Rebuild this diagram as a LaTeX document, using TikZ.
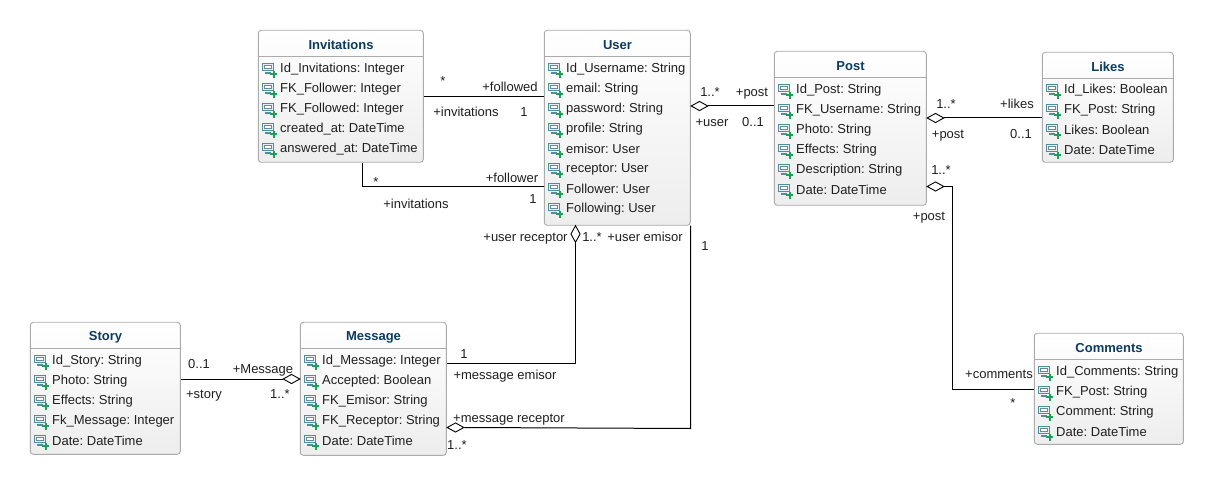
\documentclass[tikz,border=0pt]{standalone}
\usepackage{fontspec}
\setmainfont{Liberation Sans}
\frenchspacing
\usetikzlibrary{calc,shapes.geometric}
\definecolor{titleblue}{HTML}{0B3B5E}
\definecolor{boxline}{HTML}{ABABAB}
\definecolor{iconteal}{HTML}{4E8F9B}
\definecolor{icongray}{HTML}{6F8794}
\definecolor{iconfill}{HTML}{E4F0F4}
\definecolor{icongreen}{HTML}{1E9E5A}
\tikzset{
  x=1pt,y=-1pt,
  classbox/.style={draw=boxline,line width=.9pt,rounded corners=3pt,top color=white,bottom color=black!7,shading angle=0,inner sep=0pt},
  classtitle/.style={font=\fontsize{13}{15}\selectfont\bfseries,text=titleblue,inner sep=0pt},
  attr/.style={font=\fontsize{13}{15}\selectfont,text=black!88,anchor=west,inner sep=0pt,yshift=-1.2pt},
  lbl/.style={font=\fontsize{13}{15}\selectfont,text=black!88,inner sep=0pt,anchor=base,yshift=-.4pt},
  assoc/.style={draw=black,line width=1pt},
  aggmark/.style={draw=black,line width=.9pt,fill=white,diamond,aspect=1.8,minimum width=17pt,minimum height=9.5pt,inner sep=0pt},
  aggv/.style={draw=black,line width=.9pt,fill=white,diamond,aspect=.56,minimum width=9.5pt,minimum height=17pt,inner sep=0pt},
  pics/attricon/.style={code={
    \draw[iconteal,line width=1.1pt,fill=iconfill] (-6.7,-4.7) rectangle (4.3,2.6);
    \draw[icongray,line width=.9pt,fill=white] (-4.6,-2.6) rectangle (2.2,.6);
    \draw[iconteal,line width=1.1pt] (-3.8,5) -- (1.5,5);
    \fill[icongreen] (1.4,5) rectangle (8.4,7.4);
    \fill[icongreen] (3.7,2.7) rectangle (6.1,9.7);
  }}
}
% name, x1, y1, x2, y2, row offset, title, attributes
\newcommand{\umlclass}[8]{%
  \node[classbox,minimum width=#4-#2,minimum height=#5-#3] (#1) at ({(#2+#4)/2+.3},{(#3+#5)/2+.3}) {};
  \draw[boxline,line width=.7pt] (#2+.3,#3+26.5) -- (#4+.3,#3+26.5);
  \node[classtitle] (#1title) at ({(#2+#4)/2+.5},#3+15) {#7};
  \foreach \t [count=\i] in {#8} {
    \pgfmathsetmacro{\yy}{#3+#6+20*\i}
    \pic at (#2+11,\yy) {attricon};
    \node[attr] (#1a\i) at (#2+22,\yy) {\t};
  }
}
\begin{document}
\begin{tikzpicture}
\useasboundingbox (0,0) rectangle (1213,494);
\fill[white] (0,0) rectangle (1213,494);
\umlclass{inv}{258}{30}{423}{162}{18}{Invitations}{Id\_Invitations: Integer,FK\_Follower: Integer,FK\_Followed: Integer,created\_at: DateTime,answered\_at: DateTime}
\umlclass{user}{544}{30}{690}{225}{18}{User}{Id\_Username: String,email: String,password: String,profile: String,emisor: User,receptor: User,Follower: User,Following: User}
\umlclass{post}{774}{51}{926}{205}{18}{Post}{Id\_Post: String,FK\_Username: String,Photo: String,Effects: String,Description: String,Date: DateTime}
\umlclass{likes}{1042}{52}{1173}{162}{17}{Likes}{Id\_Likes: Boolean,FK\_Post: String,Likes: Boolean,Date: DateTime}
\umlclass{story}{30}{322}{180}{454}{18}{Story}{Id\_Story: String,Photo: String,Effects: String,Fk\_Message: Integer,Date: DateTime}
\umlclass{msg}{300}{322}{446}{455}{18}{Message}{Id\_Message: Integer,Accepted: Boolean,FK\_Emisor: String,FK\_Receptor: String,Date: DateTime}
\umlclass{com}{1034}{333}{1183}{444}{18}{Comments}{Id\_Comments: String,FK\_Post: String,Comment: String,Date: DateTime}
% Invitations - User
\draw[assoc] (inv.east |- 0,97) -- (user.west |- 0,97);
\draw[assoc] (inv.south -| 362,0) -- (362,187) -- (user.west |- 0,187);
% User - Post
\node[aggmark] (d1) at (699.5,106) {};
\draw[assoc] (d1.east) -- (post.west |- d1.east);
% Post - Likes
\node[aggmark] (d2) at (935.5,118) {};
\draw[assoc] (d2.east) -- (likes.west |- d2.east);
% Post - Comments
\node[aggmark] (d3) at (935.5,186.5) {};
\draw[assoc] (d3.east) -- (952,186.5) -- (952,389) -- (com.west |- 0,389);
% Story - Message
\node[aggmark] (d4) at (291.5,379) {};
\draw[assoc] (story.east |- d4.west) -- (d4.west);
% User - Message (emisor)
\node[aggv] (d5) at (575.5,234) {};
\draw[assoc] (d5.south) -- (575.5,363.5) -- (msg.east |- 0,363.5);
% User - Message (receptor)
\node[aggmark] (d6) at (455.5,427.5) {};
\draw[assoc] (user.south -| 690.5,0) -- (690.5,428.5) -- (d6.east);
% labels
\node[lbl] (l1) at (443,85) {*};
\node[lbl] (l2) at (510,91) {+followed};
\node[lbl] (l3) at (466,116) {+invitations};
\node[lbl] (l4) at (524,116) {1};
\node[lbl] (l5) at (376,186) {*};
\node[lbl] (l6) at (512,182) {+follower};
\node[lbl] (l7) at (416,208) {+invitations};
\node[lbl] (l8) at (533,203) {1};
\node[lbl] (l9) at (710,96) {1..*};
\node[lbl] (l10) at (752,96) {+post};
\node[lbl] (l11) at (712,126) {+user};
\node[lbl] (l12) at (753,126) {0..1};
\node[lbl] (l13) at (946,108) {1..*};
\node[lbl] (l14) at (1017,108) {+likes};
\node[lbl] (l15) at (948,138) {+post};
\node[lbl] (l16) at (1021,138) {0..1};
\node[lbl] (l17) at (941,174) {1..*};
\node[lbl] (l18) at (929,220) {+post};
\node[lbl] (l19) at (999,378) {+comments};
\node[lbl] (l20) at (1013,407) {*};
\node[lbl] (l21) at (525.5,241) {+user receptor};
\node[lbl] (l22) at (592,241) {1..*};
\node[lbl] (l23) at (645,241) {+user emisor};
\node[lbl] (l24) at (705,250) {1};
\node[lbl] (l25) at (464,358) {1};
\node[lbl] (l26) at (505,379) {+message emisor};
\node[lbl] (l27) at (509,422) {+message receptor};
\node[lbl] (l28) at (457,449) {1..*};
\node[lbl] (l29) at (199,368) {0..1};
\node[lbl] (l30) at (263,373) {+Message};
\node[lbl] (l31) at (204,398) {+story};
\node[lbl] (l32) at (280,398) {1..*};
\end{tikzpicture}
\end{document}
